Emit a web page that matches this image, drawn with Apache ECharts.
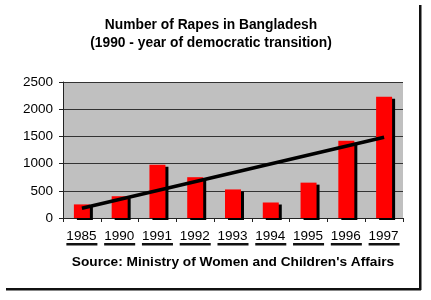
<!DOCTYPE html>
<html>
<head>
<meta charset="utf-8">
<script src="https://cdn.jsdelivr.net/npm/echarts@6/dist/echarts.min.js"></script>
<style>html,body{margin:0;padding:0;background:#fff}#c{width:431px;height:300px}</style>
</head>
<body>
<div id="c"></div>
<script>
var categories = ['1985','1990','1991','1992','1993','1994','1995','1996','1997'];
var rapes = [250, 400, 980, 750, 525, 285, 650, 1420, 2230];
// trend line: start (1985) and end (1997), nothing between
var trend = [180, null, null, null, null, null, null, null, 1485];
var yTicks = [0, 500, 1000, 1500, 2000, 2500];

var chart = echarts.init(document.getElementById('c'), null, {renderer: 'canvas'});
var font = '"Liberation Sans", Arial, sans-serif';
var underline = new echarts.graphic.LinearGradient(0, 0, 0, 1, [
  {offset: 0, color: 'rgba(0,0,0,0)'},
  {offset: 0.87, color: 'rgba(0,0,0,0)'},
  {offset: 0.87, color: '#111'},
  {offset: 1, color: '#111'}
]);
chart.setOption({
  animation: false,
  backgroundColor: '#fff',
  title: [{
    text: 'Number of Rapes in Bangladesh\n(1990 - year of democratic transition)',
    left: 211, top: 16, padding: 0, textAlign: 'center',
    textStyle: {fontFamily: font, fontSize: 13.8, fontWeight: 'bold', color: '#000', lineHeight: 18}
  }, {
    text: "Source: Ministry of Women and Children's Affairs",
    left: 233, top: 254, padding: 0, textAlign: 'center',
    textStyle: {fontFamily: font, fontSize: 13.7, fontWeight: 'bold', color: '#000', lineHeight: 16}
  }],
  grid: {left: 63, right: 28, top: 82, bottom: 82, show: true, backgroundColor: '#c0c0c0', borderWidth: 0},
  xAxis: {
    type: 'category', data: categories, boundaryGap: true,
    axisLine: {lineStyle: {color: '#222', width: 1}},
    axisTick: {show: true, length: 4, inside: false, interval: 0, lineStyle: {color: '#222'}},
    axisLabel: {
      interval: 0, margin: 12, color: '#000', fontFamily: font, fontSize: 13.5,
      formatter: function (v) { return '{u|' + v + '}'; },
      rich: {u: {fontFamily: font, fontSize: 13.5, color: '#000', backgroundColor: underline, padding: [0, 1, 2, 0], lineHeight: 15}}
    }
  },
  yAxis: {
    type: 'value', min: 0, max: 2500, interval: 500,
    axisLine: {show: true, lineStyle: {color: '#222', width: 1}},
    axisTick: {show: true, length: 4, lineStyle: {color: '#222'}},
    splitLine: {show: true, lineStyle: {color: '#333', width: 1}},
    axisLabel: {
      margin: 10, color: '#000', fontFamily: font, fontSize: 13.5,
      formatter: function (v) { return yTicks.indexOf(v) >= 0 ? String(v) : ''; }
    }
  },
  series: [{
    type: 'bar', data: rapes, barWidth: 16,
    itemStyle: {color: '#ff0000', shadowColor: '#000', shadowOffsetX: 3, shadowOffsetY: 2, shadowBlur: 0},
    z: 2
  }, {
    type: 'line', data: trend, connectNulls: true, symbol: 'none',
    lineStyle: {color: '#000', width: 3.5}, z: 5
  }],
  graphic: [
    {type: 'rect', shape: {x: 419, y: 5, width: 2.5, height: 285}, style: {fill: '#111'}},
    {type: 'rect', shape: {x: 6, y: 288, width: 415, height: 2.5}, style: {fill: '#111'}}
  ]
});
</script>
</body>
</html>
